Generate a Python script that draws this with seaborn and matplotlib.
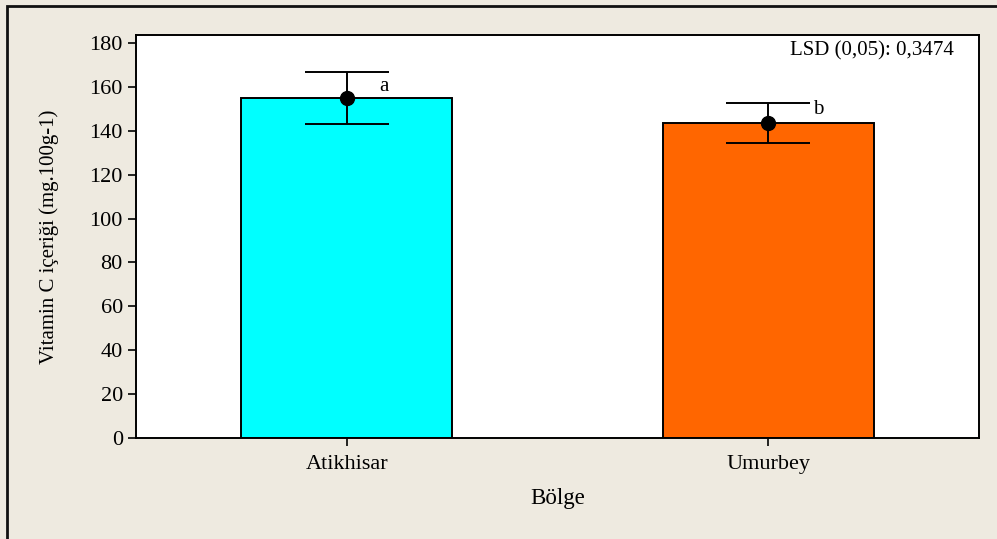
import matplotlib
matplotlib.use("Agg")
import matplotlib.pyplot as plt
import matplotlib.patches as mpatches
import seaborn as sns
import pandas as pd

# Mean vitamin C content per region with error half-widths
regions = ["Atikhisar", "Umurbey"]
means = [155.0, 143.5]
errors = [11.8, 9.3]
groups = ["a", "b"]
bar_colors = ["#00FFFF", "#FF6600"]
yticks = [0, 20, 40, 60, 80, 100, 120, 140, 160, 180]
lsd_text = "LSD (0,05): 0,3474"

sns.set_theme(style="white")
plt.rcParams["font.family"] = ["Liberation Serif", "DejaVu Serif"]
plt.rcParams["text.color"] = "black"
plt.rcParams["axes.labelcolor"] = "black"

bg = "#EEEAE0"
fig = plt.figure(figsize=(9.97, 5.39), dpi=100, facecolor=bg)
ax = fig.add_axes([136 / 997, 1 - 438 / 539, (979 - 136) / 997, (438 - 35) / 539])
ax.set_facecolor("white")

df = pd.DataFrame({"Bölge": regions, "value": means})
sns.barplot(data=df, x="Bölge", y="value", hue="Bölge", palette=bar_colors,
            saturation=1, width=0.5, errorbar=None, edgecolor="black",
            linewidth=1.4, legend=False, ax=ax)

# Error bars with the mean point
xpos = list(range(len(regions)))
ax.errorbar(xpos, means, yerr=errors, fmt="o", color="black", ecolor="black",
            markersize=10, elinewidth=1.4, capsize=30, capthick=1.4, zorder=5)

# Significance letters, placed just right of the upper cap
letter_dx = [0.076, 0.106]
letter_dy = [5.0, 6.0]
for x, m, g, dx, dy in zip(xpos, means, groups, letter_dx, letter_dy):
    ax.text(x + dx, m + dy, g, fontsize=15, ha="left", va="center", color="black")

ax.text(0.970, 0.985, lsd_text, transform=ax.transAxes, ha="right", va="top",
        fontsize=15, color="black")

ax.set_xlim(-0.5, 1.5)
ax.set_ylim(0, 183.6)
ax.set_yticks(yticks)
ax.set_xlabel("Bölge", fontsize=16.5, labelpad=10, color="black")
ax.set_ylabel("Vitamin C içeriği (mg.100g-1)", fontsize=15, labelpad=22, color="black")
ax.tick_params(axis="both", which="both", direction="out", length=6, width=1.2,
               color="black", labelsize=16, labelcolor="black", bottom=True, left=True)
ax.tick_params(axis="x", pad=6)
for side in ["left", "bottom", "top", "right"]:
    ax.spines[side].set_visible(True)
    ax.spines[side].set_color("black")
    ax.spines[side].set_linewidth(1.4)

# Outer frame of the figure
frame = mpatches.Rectangle((7 / 997, -0.1), 1.2, 1 - 6 / 539 + 0.1,
                           transform=fig.transFigure, fill=False,
                           edgecolor="#111111", linewidth=2.0, clip_on=False)
fig.patches.append(frame)

fig.savefig("out.png", dpi=100, facecolor=bg)
